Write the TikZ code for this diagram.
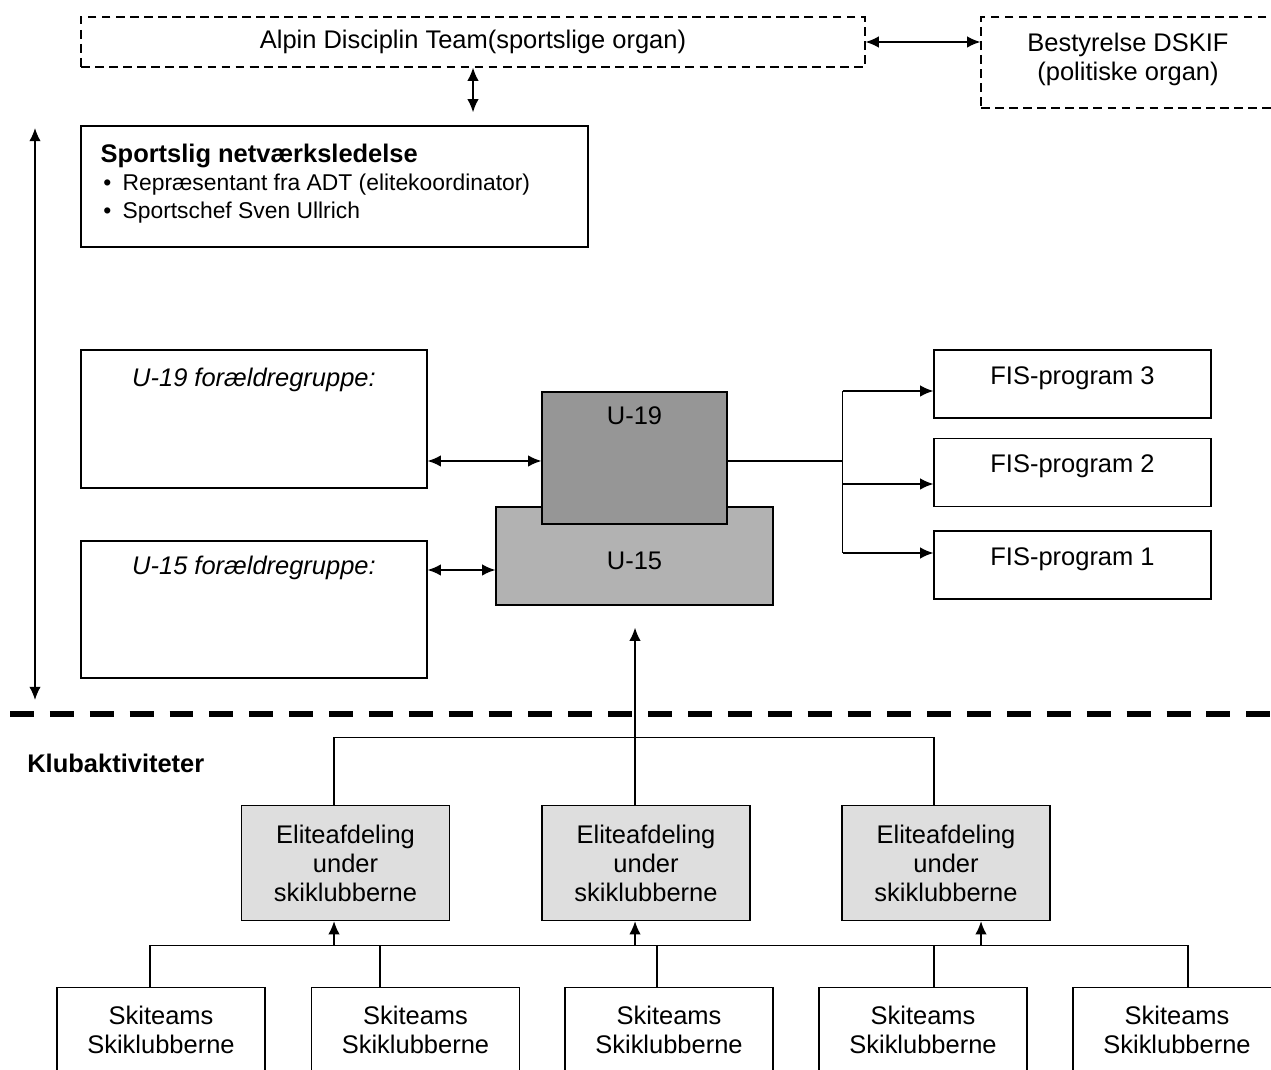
\documentclass[tikz,border=0pt]{standalone}
\usepackage{fontspec}
\setmainfont{Liberation Sans}
\usetikzlibrary{arrows.meta, positioning}
\definecolor{ugray}{gray}{0.59}
\definecolor{ulight}{gray}{0.70}
\definecolor{elgray}{gray}{0.87}

\begin{document}
\begin{tikzpicture}[x=0.02cm, y=-0.02cm, >={Latex[length=7.5pt,width=6.5pt]},
    font=\fontsize{14.5}{16.5}\selectfont]
  \tikzset{
    block/.style={draw, rectangle, line width=0.8pt, inner sep=0pt, align=center},
    orgbox/.style={block, dash pattern=on 5pt off 3pt},
    toptext/.style={anchor=north, inner sep=0pt, yshift=#1, align=center},
    eliteblock/.style={block, fill=elgray, minimum width=4.16cm, minimum height=2.3cm},
    teamblock/.style={block, minimum width=4.16cm, minimum height=1.7cm},
    fisblock/.style={block, minimum width=5.54cm, minimum height=1.36cm},
    parblock/.style={block, minimum width=6.92cm, minimum height=2.76cm},
    link/.style={line width=0.8pt},
  }
  \useasboundingbox (0,0) rectangle (1271,1070);

  %top organs
  \node (adt) [orgbox, minimum width=15.68cm, minimum height=1cm] at (473,42)
        {Alpin Disciplin Team(sportslige organ)};
  \node (dskif) [orgbox, minimum width=5.88cm, minimum height=1.82cm] at (1128,62.5) {};
  \node [toptext=-0.32cm] at (dskif.north) {Bestyrelse DSKIF\\(politiske organ)};

  %network management
  \node (netv) [block, minimum width=10.14cm, minimum height=2.42cm] at (334.5,186.5) {};
  \node (netvtxt) [anchor=north west, inner sep=0pt, align=left, font=\fontsize{13}{15.8}\selectfont]
        at ([xshift=0.4cm, yshift=-0.36cm]netv.north west)
        {{\fontsize{14.5}{16.5}\selectfont\bfseries Sportslig netværksledelse}\\[0.5pt]
         \makebox[12.5pt][l]{\hspace{1.5pt}\textbullet}Repræsentant fra ADT (elitekoordinator)\\
         \makebox[12.5pt][l]{\hspace{1.5pt}\textbullet}Sportschef Sven Ullrich};

  %side arrow
  \coordinate (sidetop) at (35,128);
  \coordinate (sidebot) at (35,700);
  \draw[link, <->] (sidetop) -- (sidebot);

  %parent groups
  \node (u19par) [parblock] at (254,419) {};
  \node [toptext=-0.36cm] at (u19par.north) {\itshape U-19 forældregruppe:};
  \node (u15par) [parblock, minimum height=2.74cm] at (254,609.5) {};
  \node [toptext=-0.3cm] at (u15par.north) {\itshape U-15 forældregruppe:};

  %teams
  \node (u15) [block, fill=ulight, minimum width=5.54cm, minimum height=1.96cm] at (634.5,556) {};
  \node [toptext=-0.9cm] at (u15.north) {U-15};
  \node (u19) [block, fill=ugray, minimum width=3.7cm, minimum height=2.64cm] at (634.5,458) {};
  \node [toptext=-0.3cm] at (u19.north) {U-19};

  %FIS programs
  \foreach \n/\y in {3/384, 2/472.5, 1/565} {
    \node (fis\n) [fisblock] at (1072.5,\y) {};
    \node [toptext=-0.34cm] at (fis\n.north) {FIS-program \n};
  }

  %connectors, upper part
  \draw[link, <->] (adt.east) -- (adt.east -| dskif.west);
  \draw[link, <->, shorten >=0.26cm] (adt.south) -- (adt.south |- netv.north);
  \coordinate (u19in) at ([yshift=-0.06cm]u19.west);
  \draw[link, <->] (u19par.east |- u19in) -- (u19in);
  \coordinate (u15in) at ([yshift=-0.28cm]u15.west);
  \draw[link, <->] (u15par.east |- u15in) -- (u15in);

  \coordinate (fork) at ([xshift=2.3cm]u19in -| u19.east);
  \coordinate (fisin3) at ([yshift=-0.14cm]fis3.west);
  \coordinate (fisin2) at ([yshift=-0.23cm]fis2.west);
  \coordinate (fisin1) at ([yshift=0.24cm]fis1.west);
  \draw[link] (u19in -| u19.east) -- (fork);
  \draw[link] (fork |- fisin3) -- (fork |- fisin1);
  \foreach \n in {3,2,1}
    \draw[link, ->] (fork |- fisin\n) -- (fisin\n);

  %separator
  \draw[line width=3.8pt, dash pattern=on 13.6pt off 9.1pt] (10,714) -- (1271,714);
  \node (klub) [anchor=west, inner sep=0pt] at (27,763) {\bfseries Klubaktiviteter};

  %club level
  \foreach \n/\x in {1/345.5, 2/646, 3/946}
    \node (elite\n) [eliteblock] at (\x,863) {Eliteafdeling\\under\\skiklubberne};
  \foreach \n/\x in {1/161, 2/415.5, 3/669, 4/923, 5/1177}
    \node (team\n) [teamblock] at (\x,1030) {Skiteams\\Skiklubberne};

  \draw[link] ([xshift=-0.23cm]elite1.north) -- ++(0,1.35cm) -| ([xshift=-0.24cm]elite3.north);
  \draw[link, ->, shorten >=0.44cm] ([xshift=-0.22cm]elite2.north) -- ([xshift=-0.22cm]elite2.north |- u15.south);

  \coordinate (bus) at ([yshift=0.83cm]team1.north);
  \draw[link] ([xshift=-0.22cm]team1.north) |- ([xshift=0.22cm]team5.north |- bus)
              -- ([xshift=0.22cm]team5.north);
  \foreach \n/\dx in {2/-0.71cm, 3/-0.24cm, 4/0.22cm}
    \draw[link] ([xshift=\dx]team\n.north) -- ([xshift=\dx]team\n.north |- bus);
  \foreach \n/\dx in {1/-0.23cm, 2/-0.22cm, 3/0.7cm}
    \draw[link, ->] ([xshift=\dx]elite\n.south |- bus) -- ([xshift=\dx]elite\n.south);

\end{tikzpicture}
\end{document}
